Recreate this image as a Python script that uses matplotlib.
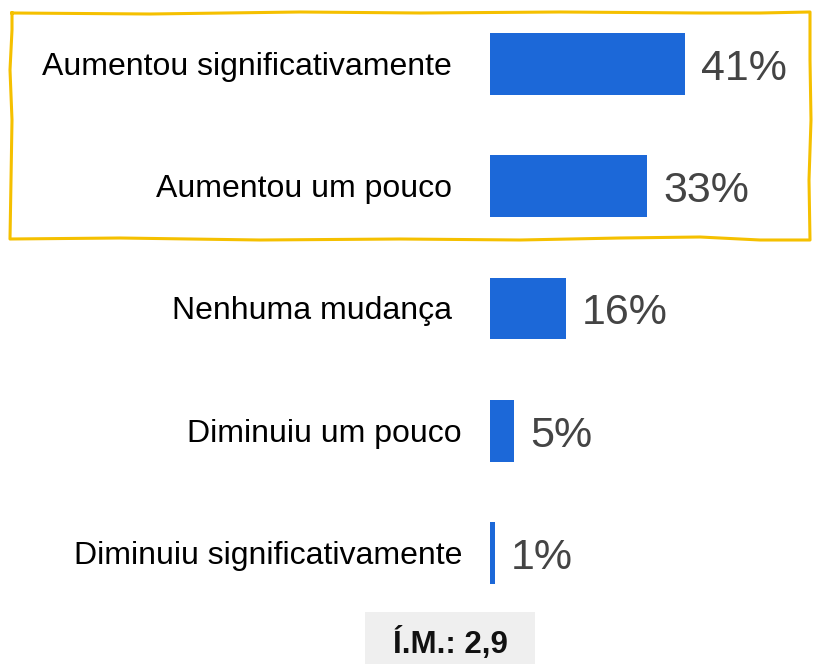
import matplotlib
matplotlib.use("Agg")
import matplotlib.pyplot as plt
from matplotlib.patches import Rectangle

plt.rcParams["font.family"] = ["Liberation Sans", "DejaVu Sans"]

categories = [
    "Aumentou significativamente",
    "Aumentou um pouco",
    "Nenhuma mudança",
    "Diminuiu um pouco",
    "Diminuiu significativamente",
]
values = [41, 33, 16, 5, 1]
value_labels = ["41%", "33%", "16%", "5%", "1%"]
index_label = "Í.M.: 2,9"

W, H = 813, 665
BAR_COLOR = "#1c68d8"

fig = plt.figure(figsize=(W / 100, H / 100), dpi=100)

# bar axes, placed in pixel terms (~4.76 px per percent)
left_px, width_px = 490, 300
top_px, bottom_px = 3, 614
ax = fig.add_axes([left_px / W, (H - bottom_px) / H, width_px / W, (bottom_px - top_px) / H])
ax.set_xlim(0, width_px / 4.76)
ax.set_ylim(len(values) - 0.5, -0.5)
ax.axis("off")

ys = list(range(len(values)))
ax.barh(ys, values, height=0.507, color=BAR_COLOR)

for i, (cat, v, lab) in enumerate(zip(categories, values, value_labels)):
    pad = -38 if i < 3 else -28
    ax.annotate(cat, xy=(0, i), xytext=(pad, -11), textcoords="offset pixels",
                ha="right", va="baseline", fontsize=23, color="#000000")
    ax.annotate(lab, xy=(v, i), xytext=(16, -16), textcoords="offset pixels",
                ha="left", va="baseline", fontsize=31, color="#444444")

# overlay in pixel coordinates for the decorations
ov = fig.add_axes([0, 0, 1, 1], zorder=-1)
ov.set_xlim(0, W)
ov.set_ylim(H, 0)
ov.axis("off")

# hand-drawn highlight box around the top two rows
box_x = [12, 150, 300, 420, 560, 700, 760, 810, 810, 811, 809, 810,
         760, 700, 620, 520, 400, 260, 120, 10, 11, 12, 10, 12, 12]
box_y = [13, 14, 12, 13, 12, 13, 13, 12, 60, 120, 180, 240,
         240, 237, 238, 240, 239, 240, 238, 239, 180, 120, 70, 30, 13]
ov.plot(box_x, box_y, color="#f5c000", lw=2.2, solid_joinstyle="round")

# index box at the bottom
ov.add_patch(Rectangle((365, 612), 170, 52, facecolor="#efefef", edgecolor="none"))
ov.text(450, 653, index_label, ha="center", va="baseline", fontsize=22.5,
        fontweight="bold", color="#111111")

fig.savefig("out.png", dpi=100)
